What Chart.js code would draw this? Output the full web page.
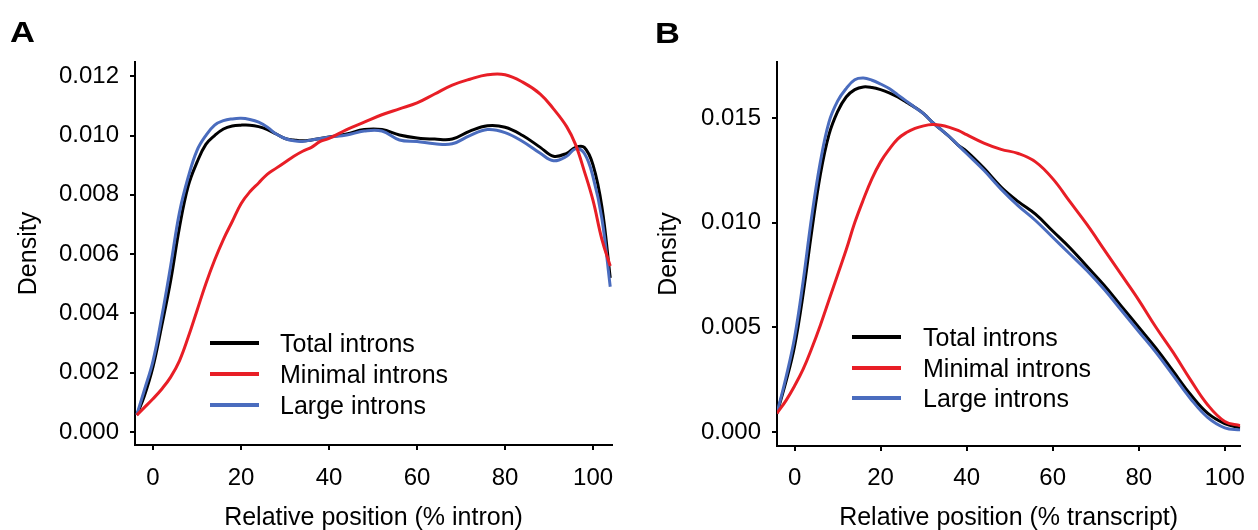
<!DOCTYPE html>
<html><head><meta charset="utf-8">
<script src="https://cdn.jsdelivr.net/npm/chart.js@4.4.1/dist/chart.umd.min.js"></script>
<style>
html,body{margin:0;padding:0;background:#fff;}
#wrap{position:relative;width:1258px;height:530px;overflow:hidden;font-family:'Liberation Sans',Arial,Helvetica,sans-serif;color:#000;}
canvas{position:absolute;top:0;}
.letter{position:absolute;font-weight:bold;font-size:30px;line-height:30px;transform:scaleX(1.15);transform-origin:left top;}
.sw{position:absolute;height:4px;width:49px;}
.lt{position:absolute;font-size:25px;line-height:30px;white-space:nowrap;}
</style></head><body>
<div id="wrap">
<canvas id="cA" width="629" height="533" style="left:0px"></canvas>
<canvas id="cB" width="629" height="533" style="left:629px"></canvas>
<div class="letter" style="left:10px;top:17px">A</div>
<div class="letter" style="left:655px;top:18px">B</div>
</div>
<script>
// ---------- Data ----------
const seriesLabels = ['Total introns', 'Minimal introns', 'Large introns'];
const seriesColors = ['#000000', '#e81e26', '#4a6cbe'];

// Panel A: relative position (% intron)
const xA = [-3.7, -2, 0, 2, 4, 6, 8, 10, 12, 14, 16, 18, 20, 22, 24, 26, 28, 30, 32, 34, 36, 38, 40, 44, 48, 52, 56, 60, 64, 68, 72, 76, 80, 84, 88, 91, 94, 96, 98, 100, 102, 103.9];
const totalA = [0.00057, 0.0012, 0.0022, 0.0036, 0.0051, 0.0069, 0.0083, 0.0091, 0.0097, 0.0100, 0.01022, 0.01032, 0.01035, 0.01035, 0.0103, 0.0102, 0.01005, 0.0099, 0.00985, 0.00982, 0.00985, 0.0099, 0.00995, 0.01005, 0.0102, 0.0102, 0.01002, 0.00992, 0.00988, 0.00988, 0.01015, 0.01033, 0.01028, 0.0100, 0.0096, 0.0093, 0.0094, 0.0096, 0.0096, 0.0090, 0.0076, 0.0052];
const minimalA = [0.00057, 0.00082, 0.00112, 0.00145, 0.00185, 0.0024, 0.0032, 0.0041, 0.0050, 0.0058, 0.0065, 0.0071, 0.0077, 0.0081, 0.0084, 0.0087, 0.0089, 0.0091, 0.0093, 0.00947, 0.0096, 0.0098, 0.0099, 0.0102, 0.01045, 0.0107, 0.0109, 0.0111, 0.0114, 0.0117, 0.0119, 0.01205, 0.01205, 0.0118, 0.0114, 0.0109, 0.0103, 0.0097, 0.0088, 0.0078, 0.0065, 0.0056];
const largeA = [0.00057, 0.0014, 0.0024, 0.0039, 0.0056, 0.0074, 0.0086, 0.0095, 0.0100, 0.01035, 0.0105, 0.01056, 0.01058, 0.01054, 0.01045, 0.01028, 0.01005, 0.0099, 0.00982, 0.0098, 0.00985, 0.0099, 0.00995, 0.01002, 0.01015, 0.01015, 0.00985, 0.0098, 0.00972, 0.00972, 0.0100, 0.0102, 0.0101, 0.0098, 0.0094, 0.00915, 0.0093, 0.00955, 0.0094, 0.0086, 0.0072, 0.0049];

// Panel B: relative position (% transcript)
const xB = [-4.1, -2, 0, 2, 4, 6, 8, 10, 12, 14, 16, 18, 20, 22, 24, 26, 28, 30, 32, 34, 36, 38, 40, 44, 48, 52, 56, 60, 64, 68, 72, 76, 80, 84, 88, 92, 96, 100, 103.6];
const totalB = [0.00089, 0.0024, 0.0041, 0.0066, 0.0096, 0.0123, 0.0142, 0.0153, 0.0160, 0.01635, 0.01648, 0.01645, 0.01635, 0.0162, 0.0160, 0.01575, 0.0155, 0.0152, 0.0148, 0.01445, 0.0141, 0.0137, 0.0134, 0.0126, 0.0117, 0.0110, 0.0104, 0.0096, 0.0088, 0.0079, 0.0070, 0.0060, 0.0050, 0.0040, 0.0029, 0.0018, 0.0009, 0.0004, 0.0002];
const minimalB = [0.00089, 0.0015, 0.0022, 0.0030, 0.0040, 0.0051, 0.0063, 0.0075, 0.0087, 0.0100, 0.0111, 0.0121, 0.0129, 0.0135, 0.0140, 0.0143, 0.0145, 0.01462, 0.01468, 0.01465, 0.01455, 0.0144, 0.0142, 0.0138, 0.0135, 0.0133, 0.0129, 0.0121, 0.0110, 0.0099, 0.0087, 0.0075, 0.0063, 0.0050, 0.0038, 0.0025, 0.0013, 0.0005, 0.0003];
const largeB = [0.00089, 0.0026, 0.0045, 0.0072, 0.0103, 0.0129, 0.0148, 0.0158, 0.0164, 0.01682, 0.0169, 0.0168, 0.01662, 0.0164, 0.0161, 0.0158, 0.0155, 0.0152, 0.0148, 0.01445, 0.0141, 0.0137, 0.0133, 0.0125, 0.0116, 0.0108, 0.0101, 0.0093, 0.0085, 0.0077, 0.0068, 0.0058, 0.0048, 0.0038, 0.0027, 0.0016, 0.0007, 0.0002, 0.0001];

const xTitleA = 'Relative position (% intron)';
const xTitleB = 'Relative position (% transcript)';
const yTitle = 'Density';

// ---------- Chart building ----------
const FONT = "'Liberation Sans', Arial, Helvetica, sans-serif";
Chart.defaults.font.family = FONT;
Chart.defaults.color = '#000';

function makePanel(id, xs, seriesVals, cfg) {
  const drawOrder = [2, 0, 1]; // red on top, then blue, then black
  const datasets = seriesVals.map((vals, i) => ({
    label: seriesLabels[i],
    data: xs.map((x, k) => ({x: x, y: vals[k]})),
    borderColor: seriesColors[i],
    backgroundColor: seriesColors[i],
    borderWidth: 3,
    pointRadius: 0,
    fill: false,
    tension: 0.4,
    order: drawOrder[i]
  }));
  return new Chart(document.getElementById(id), {
    type: 'line',
    data: {datasets},
    options: {
      responsive: false,
      animation: false,
      devicePixelRatio: 1,
      layout: {padding: cfg.padding},
      plugins: {legend: {display: false}, tooltip: {enabled: false}},
      scales: {
        x: {
          type: 'linear',
          min: cfg.xMin, max: cfg.xMax,
          afterFit: s => { s.height = cfg.xH; },
          ticks: {stepSize: 20, includeBounds: false, padding: cfg.xPad, font: {size: 24}, color: '#000', maxRotation: 0,
                  callback: v => String(Math.round(v))},
          grid: {display: true, drawOnChartArea: false, drawTicks: true, tickLength: 5, lineWidth: 2, color: '#000'},
          border: {display: true, color: '#000', width: 2},
          title: {display: true, text: cfg.xTitle, font: {size: 25}, color: '#000', padding: {top: 0, bottom: 0}}
        },
        y: {
          type: 'linear',
          min: cfg.yMin, max: cfg.yMax,
          afterFit: s => { s.width = cfg.yW; },
          ticks: {stepSize: cfg.yStep, includeBounds: false, padding: 11, font: {size: 24}, color: '#000',
                  callback: v => (Math.abs(v) < 1e-9 ? 0 : v).toFixed(3)},
          grid: {display: true, drawOnChartArea: false, drawTicks: true, tickLength: 5, lineWidth: 2, color: '#000'},
          border: {display: true, color: '#000', width: 2},
          title: {display: true, text: yTitle, font: {size: 25}, color: '#000', padding: {top: 0, bottom: 0}}
        }
      }
    }
  });
}

makePanel('cA', xA, [totalA, minimalA, largeA], {
  padding: {left: 14, top: 62, right: 17, bottom: 0},
  xMin: -4.1, xMax: 104.3, yMin: -0.00044, yMax: 0.01248, yStep: 0.002,
  yW: 121, xH: 88, xPad: 14, xTitle: xTitleA
});
makePanel('cB', xB, [totalB, minimalB, largeB], {
  padding: {left: 25, top: 62, right: 6, bottom: 0},
  xMin: -4.08, xMax: 103.6, yMin: -0.00067, yMax: 0.01767, yStep: 0.005,
  yW: 123, xH: 87, xPad: 13, xTitle: xTitleB
});

// ---------- HTML legends ----------
function makeLegend(swX, textX, rowYs) {
  const wrap = document.getElementById('wrap');
  seriesLabels.forEach((lab, i) => {
    const sw = document.createElement('div');
    sw.className = 'sw';
    sw.style.left = swX + 'px';
    sw.style.top = (rowYs[i] - 2) + 'px';
    sw.style.background = seriesColors[i];
    wrap.appendChild(sw);
    const t = document.createElement('div');
    t.className = 'lt';
    t.style.left = textX + 'px';
    t.style.top = (rowYs[i] - 15) + 'px';
    t.textContent = lab;
    wrap.appendChild(t);
  });
}
makeLegend(210, 280, [343, 374, 405]);
makeLegend(852, 923, [337, 367.5, 398]);
</script>
</body></html>
